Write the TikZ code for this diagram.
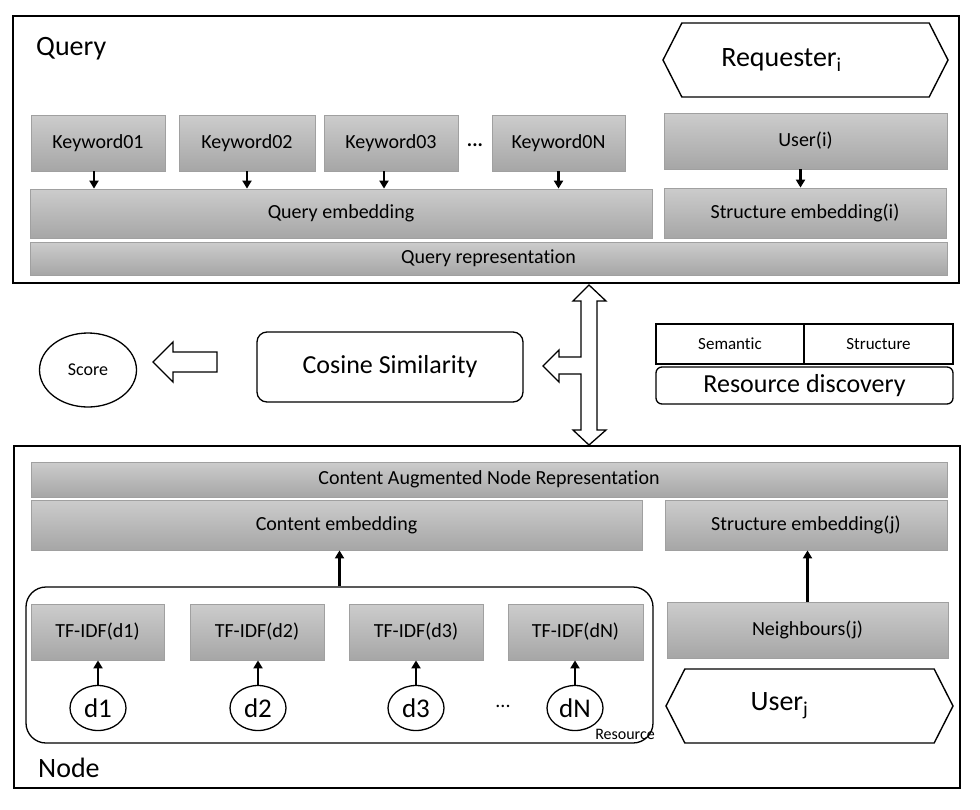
\documentclass[tikz,border=0pt]{standalone}
\usepackage{fontspec}
\setmainfont{Carlito}[Ligatures=NoCommon]
\usetikzlibrary{shapes.geometric,shapes.symbols,arrows.meta}
\newcommand{\fs}[1]{\fontsize{#1}{#1}\selectfont}
\definecolor{gtop}{RGB}{204,204,204}
\definecolor{gbot}{RGB}{166,166,166}
\definecolor{gline}{RGB}{160,160,160}
\begin{document}
\begin{tikzpicture}[x=1pt,y=-1pt,
  frame/.style={draw, line width=2.2pt, inner sep=0pt},
  gbox/.style={draw=gline, line width=0.8pt, top color=gtop, bottom color=gbot, inner sep=0pt, font=\fs{20}},
  wbox/.style={draw, line width=1.3pt, inner sep=0pt},
  rbox/.style={draw, line width=1.3pt, inner sep=0pt, rounded corners=#1},
  circ/.style={ellipse, draw, line width=1.3pt, inner sep=0pt},
  hexa/.style={signal, signal to=west and east, signal pointer angle=126, draw, line width=1.4pt, inner sep=0pt, font=\fs{28}},
  lab/.style={inner sep=0pt},
  arr/.style={line width=2.4pt, -{Triangle[length=8pt,width=9pt]}},
  blk/.style={draw, line width=1.3pt, fill=white, line join=miter}
]
\useasboundingbox (0,0) rectangle (980,809);

% ---------- Query frame ----------
\node[frame, minimum width=946, minimum height=267] (qframe) at (486,149.5) {};
\node[lab, anchor=west, font=\fs{28}] (qlabel) at (36,49) {Query};
\node[hexa, minimum width=285, minimum height=74] (req) at (805.5,60) {Requester\textsubscript{i}\rule{48pt}{0pt}};

\node[gbox, minimum width=134, minimum height=56] (k1) at (98,143) {Keyword01};
\node[gbox, minimum width=136, minimum height=56] (k2) at (247,143) {Keyword02};
\node[gbox, minimum width=134, minimum height=56] (k3) at (391,143) {Keyword03};
\node[lab, font=\bfseries\fs{20}] (kdots) at (475,145) {...};
\node[gbox, minimum width=133, minimum height=56] (kn) at (558.5,143) {Keyword0N};
\node[gbox, minimum width=283, minimum height=56] (useri) at (805.5,141) {User(i)};

\node[gbox, minimum width=622, minimum height=49] (qe) at (341,213.5) {Query embedding};
\node[gbox, minimum width=282, minimum height=50] (sei) at (805,213) {Structure embedding(i)};
\node[gbox, minimum width=917, minimum height=33] (qr) at (488.5,258.5) {Query representation};

\draw[arr] ([xshift=-4pt]k1.south) -- ([xshift=-4pt]k1.south |- qe.north);
\draw[arr] (k2.south) -- (k2.south |- qe.north);
\draw[arr] ([xshift=-7pt]k3.south) -- ([xshift=-7pt]k3.south |- qe.north);
\draw[arr] (kn.south) -- (kn.south |- qe.north);
\draw[arr] ([xshift=-5pt]useri.south) -- ([xshift=-5pt]useri.south |- sei.north);

% ---------- middle ----------
\node[circ, minimum width=97, minimum height=74, font=\fs{18}] (score) at (88,370) {Score};
\node[rbox=10pt, minimum width=266, minimum height=70, font=\fs{26}] (cos) at (390,367) {Cosine Similarity};
\draw[blk] (153,362) -- (173,342) -- (173,352) -- (217,352) -- (217,372) -- (173,372) -- (173,382) -- cycle;

\draw[blk] (589,285) -- (606,301) -- (597,301) -- (597,430) -- (606,430) -- (589,445)
  -- (573,430) -- (581,430) -- (581,374) -- (559,374) -- (559,382) -- (543,366)
  -- (559,350) -- (559,357) -- (581,357) -- (581,301) -- (573,301) -- cycle;

\node[wbox, minimum width=148, minimum height=40, font=\fs{17}] (sem) at (730,344) {Semantic};
\node[wbox, minimum width=149, minimum height=40, font=\fs{17}] (str) at (878.5,344) {Structure};
\node[rbox=6pt, minimum width=297, minimum height=37, font=\fs{26}] (rd) at (804.5,385.5) {Resource discovery};

% ---------- Node frame ----------
\node[frame, minimum width=946, minimum height=342] (nframe) at (487,617) {};
\node[lab, anchor=west, font=\fs{28}] (nlabel) at (38,768) {Node};

\node[gbox, minimum width=916, minimum height=35] (can) at (489,479.5) {Content Augmented Node Representation};
\node[gbox, minimum width=611, minimum height=50] (ce) at (336.5,525) {Content embedding};
\node[gbox, minimum width=282, minimum height=50] (sej) at (806,525) {Structure embedding(j)};

\node[rbox=20pt, minimum width=627, minimum height=156] (res) at (339.5,665) {};
\node[lab, anchor=east, font=\fs{16}] (reslabel) at (655,734) {Resource};

\node[gbox, minimum width=133, minimum height=56] (t1) at (97.5,632) {TF-IDF(d1)};
\node[gbox, minimum width=134, minimum height=56] (t2) at (257,632) {TF-IDF(d2)};
\node[gbox, minimum width=134, minimum height=56] (t3) at (416,632) {TF-IDF(d3)};
\node[gbox, minimum width=135, minimum height=56] (tn) at (575.5,632) {TF-IDF(dN)};

\node[circ, minimum width=56, minimum height=45, font=\fs{27}] (c1) at (98,708) {d1};
\node[circ, minimum width=56, minimum height=45, font=\fs{27}] (c2) at (258,708) {d2};
\node[circ, minimum width=56, minimum height=45, font=\fs{27}] (c3) at (416,708) {d3};
\node[lab, font=\fs{20}] (cdots) at (503,706) {...};
\node[circ, minimum width=56, minimum height=45, font=\fs{27}] (cn) at (575,708) {dN};

\draw[arr] (c1.north) -- (c1.north |- t1.south);
\draw[arr] (c2.north) -- (c2.north |- t2.south);
\draw[arr] (c3.north) -- (c3.north |- t3.south);
\draw[arr] (cn.north) -- (cn.north |- tn.south);

\draw[arr] (res.north) -- (res.north |- ce.south);

\node[gbox, minimum width=281, minimum height=56] (nb) at (807.5,630) {Neighbours(j)};
\draw[arr] (nb.north) -- (nb.north |- sej.south);

\node[hexa, minimum width=287, minimum height=74] (userj) at (809.5,706) {User\textsubscript{j}\rule{60pt}{0pt}};
\end{tikzpicture}
\end{document}
